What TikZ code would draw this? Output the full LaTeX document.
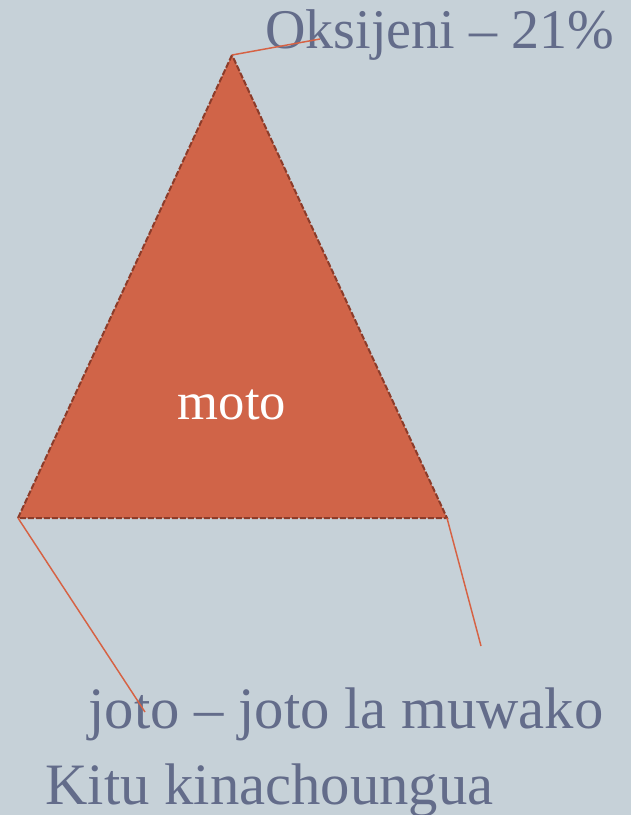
\documentclass[tikz,border=0pt]{standalone}
\usepackage{fontspec}
\setmainfont{Liberation Serif}
\usetikzlibrary{positioning}
\definecolor{bgblue}{RGB}{198,209,216}
\definecolor{firefill}{RGB}{208,100,72}
\definecolor{fireedge}{RGB}{140,60,42}
\definecolor{leadred}{RGB}{214,98,68}
\definecolor{labelgray}{RGB}{99,108,138}
\tikzset{
  every picture/.style={line width=0.75pt},
  labeltext/.style={anchor=base west, inner sep=0pt, text=labelgray,
    font=\fontsize{44}{50}\selectfont},
  leader/.style={draw=leadred, line width=1.1pt},
}

\begin{document}
\begin{tikzpicture}[x=0.75pt, y=-0.75pt]
    % background and page size
    \fill[bgblue] (0,0) rectangle (631,815);
    \useasboundingbox (0,0) rectangle (631,815);

    % corners of the fire triangle
    \coordinate (oxy) at (232,55);
    \coordinate (heat) at (18,518);
    \coordinate (fuel) at (447,518);

    \fill[firefill] (oxy) -- (heat) -- (fuel) -- cycle;
    \draw[fireedge, line width=1.5pt, dash pattern=on 4.5pt off 1.5pt] (oxy) -- (heat) -- (fuel) -- cycle;
    \node[text=white, font=\fontsize{39.5}{45}\selectfont] (moto) at (232,405) {moto};

    % labels
    \node[labeltext, font=\fontsize{42}{48}\selectfont] (oxylabel) at (265,48) {Oksijeni – 21\%};
    \node[labeltext] (heatlabel) at (88,728) {joto – joto la muwako};
    \node[labeltext] (fuellabel) at (45,804) {Kitu kinachoungua};

    % leader lines
    \coordinate (oxyend) at (320,39);
    \coordinate (heatend) at (145,712);
    \coordinate (fuelend) at (481,646);
    \draw[leader] (oxy) -- (oxyend);
    \draw[leader] (heat) -- (heatend);
    \draw[leader] (fuel) -- (fuelend);
\end{tikzpicture}
\end{document}
